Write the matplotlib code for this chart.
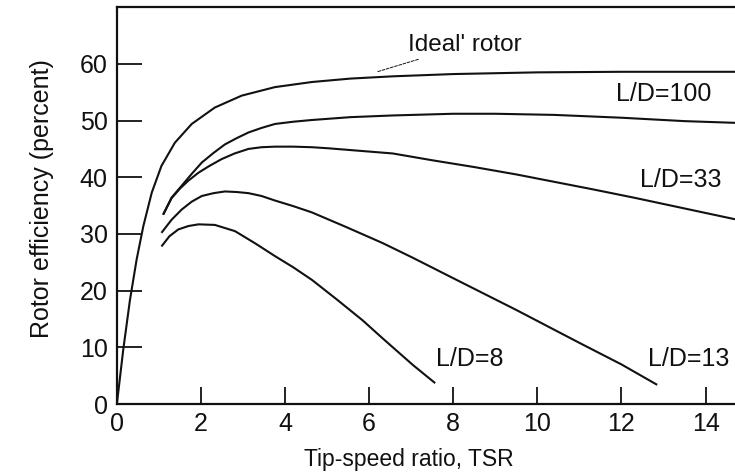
import matplotlib
matplotlib.use('Agg')
import matplotlib.pyplot as plt

# Rotor efficiency (percent) vs tip-speed ratio
ideal_x = [0, 0.15, 0.31, 0.47, 0.63, 0.83, 1.06, 1.38, 1.78, 2.33, 2.97,
           3.76, 4.64, 5.55, 6.56, 8, 10, 12, 14.7]
ideal_y = [0, 9.5, 18.3, 25.5, 31.4, 37.3, 42.0, 46.1, 49.4, 52.3, 54.4,
           55.9, 56.8, 57.4, 57.8, 58.2, 58.5, 58.6, 58.6]

ld100_x = [1.1, 1.3, 1.54, 1.78, 2.02, 2.3, 2.57, 2.85, 3.13, 3.44, 3.76,
           4.2, 4.64, 5.55, 6.56, 8, 9, 10.4, 12, 13.5, 14.7]
ld100_y = [33.4, 36.4, 38.5, 40.6, 42.6, 44.3, 45.8, 46.9, 47.9, 48.7, 49.4,
           49.8, 50.1, 50.6, 50.9, 51.2, 51.2, 51.0, 50.5, 49.9, 49.6]

ld33_x = [1.1, 1.3, 1.5, 1.7, 1.94, 2.2, 2.49, 2.8, 3.13, 3.44, 3.76, 4.2,
          4.64, 5.05, 5.55, 6.56, 7.5, 8.5, 9.5, 10.4, 11.3, 12.3, 13.5,
          14.7]
ld33_y = [33.4, 36.3, 38.0, 39.4, 40.8, 42.0, 43.2, 44.2, 45.0, 45.3, 45.4,
          45.4, 45.3, 45.1, 44.8, 44.2, 43.0, 41.8, 40.5, 39.2, 37.9, 36.4,
          34.5, 32.6]

ld13_x = [1.06, 1.3, 1.54, 1.78, 2.02, 2.3, 2.57, 2.85, 3.13, 3.44, 3.76,
          4.2, 4.64, 5.43, 6.32, 7.04, 8.0, 9.5, 11.0, 12.0, 12.85]
ld13_y = [30.2, 32.5, 34.3, 35.7, 36.7, 37.2, 37.5, 37.4, 37.2, 36.7, 35.9,
          34.9, 33.8, 31.3, 28.4, 25.8, 22.2, 16.6, 10.8, 7.0, 3.4]

ld8_x = [1.06, 1.25, 1.46, 1.7, 1.94, 2.33, 2.81, 3.3, 3.76, 4.2, 4.64,
         5.24, 5.84, 6.32, 7.04, 7.57]
ld8_y = [27.8, 29.6, 30.8, 31.4, 31.7, 31.6, 30.5, 28.3, 26.1, 24.1, 21.9,
         18.4, 14.8, 11.6, 6.9, 3.7]

x_ticks = [0, 2, 4, 6, 8, 10, 12, 14]
y_ticks = [0, 10, 20, 30, 40, 50, 60]

plt.rcParams['font.family'] = ['Liberation Sans', 'DejaVu Sans']

fig = plt.figure(figsize=(7.35, 4.76), dpi=100)
ax = fig.add_axes([0.159, 0.151, 0.841, 0.834])

ink = '#111111'
lw = 1.5
for xs, ys in [(ideal_x, ideal_y), (ld100_x, ld100_y), (ld33_x, ld33_y),
               (ld13_x, ld13_y), (ld8_x, ld8_y)]:
    ax.plot(xs, ys, color=ink, linewidth=lw, solid_capstyle='butt',
            solid_joinstyle='round')

ax.set_xlim(0, 14.7)
ax.set_ylim(0, 70)
ax.set_xticks(x_ticks)
ax.set_yticks(y_ticks)
ax.tick_params(axis='both', direction='in', colors=ink, labelsize=18,
               width=1.3)
ax.tick_params(axis='x', length=12, pad=6)
ax.tick_params(axis='y', length=18, pad=6.5)

for side in ['left', 'bottom', 'top']:
    ax.spines[side].set_linewidth(1.6)
    ax.spines[side].set_color(ink)
ax.spines['right'].set_visible(False)

ax.set_xlabel('Tip-speed ratio, TSR', fontsize=16.5, color=ink)
ax.xaxis.set_label_coords(0.472, -0.11)
ax.set_ylabel('Rotor efficiency (percent)', fontsize=18, color=ink)
ax.yaxis.set_label_coords(-0.102, 0.519)

# curve labels
ax.annotate("Ideal' rotor", xy=(6.19, 58.6), xytext=(6.93, 63.3),
            fontsize=17.5, color=ink, va='center', ha='left',
            arrowprops=dict(arrowstyle='-', color=ink, linewidth=0.7,
                            linestyle=(0, (3, 1.5)), shrinkA=1, shrinkB=0))
ax.text(13.0, 54.6, 'L/D=100', fontsize=18, color=ink, ha='center',
        va='center')
ax.text(13.4, 39.6, 'L/D=33', fontsize=18, color=ink, ha='center',
        va='center')
ax.text(8.4, 7.9, 'L/D=8', fontsize=18, color=ink, ha='center',
        va='center')
ax.text(13.6, 7.9, 'L/D=13', fontsize=18, color=ink, ha='center',
        va='center')

fig.savefig('out.png', dpi=100)
